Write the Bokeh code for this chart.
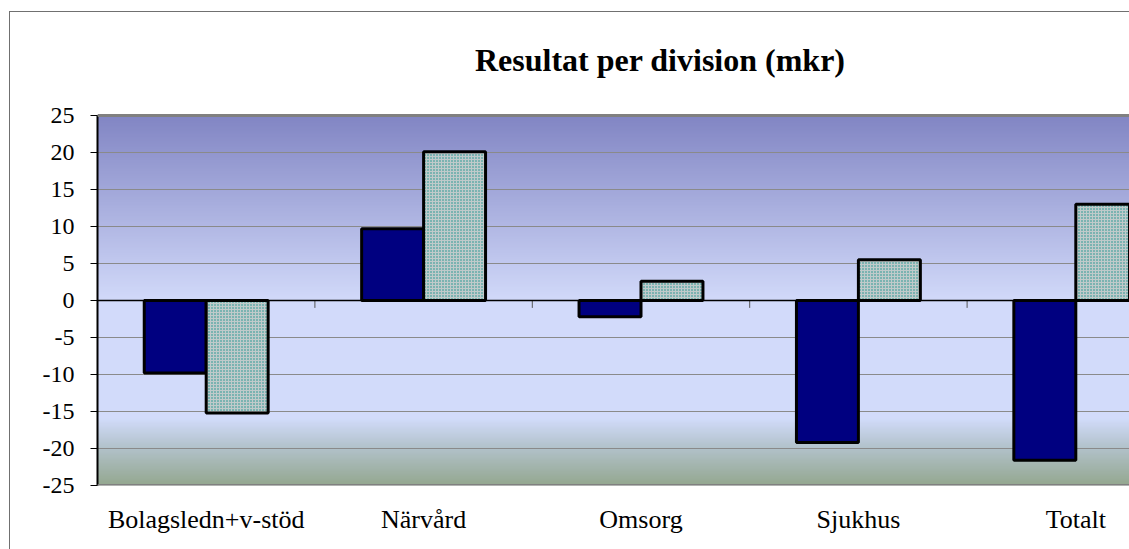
import numpy as np
from bokeh.plotting import figure
from bokeh.models import FixedTicker, Span, Label
from bokeh.embed import file_html
from bokeh.resources import INLINE

# ---- data ----
categories = ["Bolagsledn+v-stöd", "Närvård", "Omsorg", "Sjukhus", "Totalt"]
series_a = [-9.8, 9.7, -2.2, -19.2, -21.6]   # navy bars
series_b = [-15.2, 20.1, 2.6, 5.5, 13.0]     # dotted teal bars
y_ticks = [-25, -20, -15, -10, -5, 0, 5, 10, 15, 20, 25]
title_text = "Resultat  per division (mkr)"

FONT = "Liberation Serif"
n = len(categories)
centers = np.arange(n) + 0.5
bw = 0.285
x_end = 4.747
y_lo, y_hi = -25, 25
ppu = 370 / 50.0                      # pixels per unit of the value axis
y_top = y_hi + 115 / ppu              # room above the plot area for the title

p = figure(width=1129, height=549, output_backend="svg", toolbar_location=None,
           x_range=(0, x_end), y_range=(y_lo, y_top),
           min_border_left=97, min_border_right=0, min_border_top=0, min_border_bottom=64)
p.background_fill_color = None
p.border_fill_color = None
p.outline_line_color = None
# outer chart border (left and top edges visible)
p.styles = {
    "background-color": "white",
    "background-image": "linear-gradient(#707070, #707070), linear-gradient(#707070, #707070)",
    "background-size": "1px 100%, 100% 1px",
    "background-position": "9px 11px, 9px 11px",
    "background-repeat": "no-repeat",
}

# title
p.add_layout(Label(x=2.607, y=y_hi + (115 - 59) / ppu, text=title_text, text_align="center",
                   text_baseline="alphabetic", text_font=FONT, text_font_size="32px",
                   text_font_style="bold", text_color="black"))

# gradient background of the plot area
stops_y = np.array([-25, -20, -16, 0, 25], dtype=float)
stops_c = np.array([[0x94, 0xa8, 0x90], [0xb2, 0xc2, 0xca], [0xd2, 0xdc, 0xfa],
                    [0xd2, 0xda, 0xfa], [0x82, 0x86, 0xc4]], dtype=float)
rows = 300
ys = np.linspace(y_lo, y_hi, rows)
img = np.zeros((rows, 1, 4), dtype=np.uint8)
for k in range(3):
    img[:, 0, k] = np.interp(ys, stops_y, stops_c[:, k]).astype(np.uint8)
img[:, 0, 3] = 255
p.image_rgba(image=[img.view(dtype=np.uint32).reshape(rows, 1)], x=0, y=y_lo,
             dw=x_end, dh=y_hi - y_lo, level="image")

# grid
p.xgrid.visible = False
p.ygrid.ticker = FixedTicker(ticks=y_ticks)
p.ygrid.grid_line_color = "#8a8a8a"
p.ygrid.grid_line_width = 1.2

# top / bottom border of plot area
p.add_layout(Span(location=y_hi, dimension="width", line_color="#808080", line_width=3))
p.add_layout(Span(location=y_lo, dimension="width", line_color="#808080", line_width=3))

# bars
p.vbar(x=centers - bw / 2, width=bw, top=series_a, bottom=0,
       fill_color="#000080", line_color="black", line_width=3)
p.vbar(x=centers + bw / 2, width=bw, top=series_b, bottom=0,
       fill_color="#c0caca", line_color="black", line_width=3,
       hatch_pattern="dot", hatch_color="#12908c", hatch_scale=3, hatch_weight=2)

# zero line and category boundary ticks
p.add_layout(Span(location=0, dimension="width", line_color="black", line_width=1.5))
bounds = np.arange(1, n)
p.segment(x0=bounds, y0=0, x1=bounds, y1=-1.0, line_color="#555555", line_width=1)

# y axis
yax = p.yaxis[0]
yax.ticker = FixedTicker(ticks=y_ticks)
yax.bounds = (y_lo, y_hi)
yax.major_label_overrides = {t: str(t) for t in y_ticks}
yax.axis_line_color = "black"
yax.axis_line_width = 2
yax.major_tick_out = 7
yax.major_tick_in = 0
yax.major_tick_line_color = "black"
yax.minor_tick_line_color = None
yax.major_label_standoff = 16
yax.major_label_text_font = FONT
yax.major_label_text_font_size = "24px"
yax.major_label_text_color = "black"

# x axis (category labels at bottom)
xax = p.xaxis[0]
xax.ticker = FixedTicker(ticks=list(centers))
xax.major_label_overrides = {float(c): lab for c, lab in zip(centers, categories)}
xax.axis_line_color = None
xax.major_tick_line_color = None
xax.minor_tick_line_color = None
xax.major_label_standoff = 13
xax.major_label_text_font = FONT
xax.major_label_text_font_size = "26px"
xax.major_label_text_color = "black"

open("out.html", "w").write(file_html(p, INLINE))
